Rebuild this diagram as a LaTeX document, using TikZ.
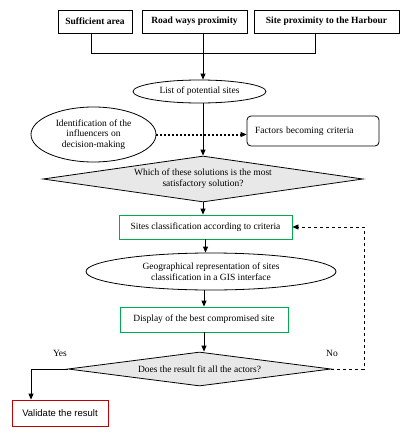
\documentclass[tikz,border=0pt]{standalone}
\usepackage{fontspec}
\setmainfont{Liberation Serif}
\newfontfamily\arialfont{Liberation Sans}
\usetikzlibrary{shapes.geometric,arrows.meta}
\definecolor{boxgreen}{RGB}{0,170,80}
\definecolor{boxred}{RGB}{192,0,0}
\definecolor{choicegray}{RGB}{232,232,232}
\begin{document}
\begin{tikzpicture}[x=1pt,y=-1pt,line width=0.8pt,
  every node/.style={font=\fontsize{9.5}{10.8}\selectfont},
  crit/.style={draw, rectangle, inner sep=0pt, minimum height=23pt, font=\fontsize{9.5}{10.8}\selectfont\bfseries},
  oval/.style={draw, ellipse, inner sep=0pt, align=center},
  task/.style={draw=boxgreen, rectangle, inner sep=0pt},
  choice/.style={draw, diamond, fill=choicegray, inner sep=0pt, align=center},
  link/.style={-{Triangle[length=6pt,width=5pt]}}]
\useasboundingbox (0,0) rectangle (409,434);

\node[crit, minimum width=74pt] (area) at (95,21.5) {Sufficient area};
\node[crit, minimum width=105pt] (road) at (194.5,21.5) {Road ways proximity};
\node[crit, minimum width=145pt] (harbour) at (326.5,21.5) {Site proximity to the Harbour};
\coordinate (join) at (203,53);

\node[oval, minimum width=133pt, minimum height=23pt] (list) at (199.5,91.5) {List of potential sites};
\node[oval, minimum width=125pt, minimum height=55pt] (ident) at (93.5,134.5) {Identification of the\\influencers on\\decision-making};
\node[draw, rectangle, rounded corners=4pt, inner xsep=8pt, text width=116pt, align=left, minimum height=30pt] (factors) at (313,131) {Factors becoming criteria};
\node[choice, aspect=7, minimum width=320pt, minimum height=46pt] (which) at (203,179) {Which of these solutions is the most\\satisfactory solution?};
\node[task, minimum width=173pt, minimum height=24pt] (classify) at (205.5,227) {Sites classification according to criteria};
\node[oval, minimum width=250pt, minimum height=37pt] (geo) at (211,271.5) {Geographical representation of sites\\classification in a GIS interface};
\node[task, minimum width=168pt, minimum height=25pt] (display) at (204,319.5) {Display of the best compromised site};
\node[choice, aspect=8, minimum width=263pt, minimum height=34pt] (fit) at (199.5,369) {Does the result fit all the actors?};
\node[draw=boxred, rectangle, inner sep=0pt, minimum width=96pt, minimum height=26pt, font=\fontsize{9.5}{10.8}\arialfont] (validate) at (60,413) {Validate the result};
\node (yes) at (60,353) {Yes};
\node (no) at (332,353) {No};
\coordinate (yesturn) at (31,369);
\coordinate (noturn) at (364,369);

\path[draw] ([xshift=-4pt]area.south) |- (join);
\path[draw] ([xshift=-11.5pt]harbour.south) |- (join);
\path[draw] (road.south -| join) -- (join);
\path[draw,link] (join) -- (join |- list.north);
\path[draw,link] (list.south -| which.north) -- (which.north);
\path[draw,line width=2pt,dotted,-{Triangle[length=6pt,width=5pt,line width=0.8pt]}] (ident.east) -- (ident.east -| factors.west);
\path[draw,link] (which.south) -- (which.south |- classify.north);
\path[draw,link] (classify.south) -- (classify.south |- geo.north);
\path[draw,link] (geo.south -| display.north) -- (display.north);
\path[draw,link] (display.south) -- (display.south |- fit.north);
\path[draw,link] (fit.west) -- (yesturn) -- (yesturn |- validate.north);
\path[draw,link,dashed] (fit.east) -- (noturn) |- (classify.east);
\end{tikzpicture}
\end{document}
